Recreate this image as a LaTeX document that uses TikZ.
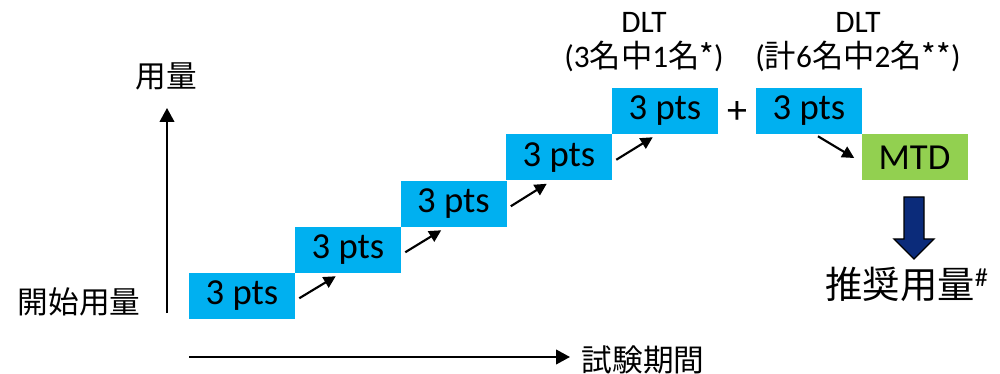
\documentclass[tikz,border=0pt]{standalone}
\usepackage{fontspec}
\setmainfont{Carlito}
\newfontfamily\jpfont{Noto Sans CJK JP}
\newcommand\ja[1]{{\jpfont #1}}
\usetikzlibrary{arrows.meta}
\definecolor{ptscyan}{HTML}{00B0F0}
\definecolor{mtdgreen}{HTML}{92D050}
\definecolor{recnavy}{HTML}{0B2B7A}
\tikzset{
  doseaxis/.style={line width=1.5pt,-{Triangle[length=10.5pt,width=11pt]}},
  escal/.style={line width=1.6pt,-{Triangle[length=9pt,width=9pt]}},
}
\begin{document}
\begin{tikzpicture}[x=0.75pt,y=-0.75pt]
      \useasboundingbox (0,0) rectangle (1000,374);

      \begin{scope}[every node/.style={fill=ptscyan, inner sep=0pt, minimum width=79.5pt, minimum height=34.5pt, font=\fontsize{27.5}{32}\selectfont}]
        \node (1) at (242,296)   {3 pts};
        \node (2) at (348,250)   {3 pts};
        \node (3) at (453.5,204) {3 pts};
        \node (4) at (559,157.5) {3 pts};
        \node (5) at (665,111)   {3 pts};
        \node (6) at (809,111)   {3 pts};
        \node[fill=mtdgreen] (7) at (914.5,157.5) {MTD};
      \end{scope}

      \begin{scope}[every node/.style={inner sep=0pt, font=\fontsize{23}{28}\jpfont}]
        \node (dose)  at (166,76)  {用量};
        \node (start) at (79,302)  {開始用量};
        \node (time)  at (643,360) {試験期間};
        \node[font=\fontsize{28}{33}\jpfont] (rec) at (907,284) {推奨用量\textsuperscript{\rmfamily\#}};
      \end{scope}

      \begin{scope}[every node/.style={inner sep=0pt, align=center, font=\fontsize{23.5}{26.25}\selectfont}]
        \node (dlt1) at (644,42) {DLT\\(3\ja{名中}1\ja{名*})};
        \node (dlt2) at (858,42) {DLT\\(\ja{計}6\ja{名中}2\ja{名**})};
        \node[font=\fontsize{30}{32}\selectfont] (plus) at (737,113)  {+};
      \end{scope}

      % axes
      \coordinate (o)    at (167,313);
      \coordinate (ytop) at (167,108);
      \coordinate (x0)   at (189,357);
      \coordinate (xend) at (570,357);
      \draw[doseaxis] (o) -- (ytop);
      \draw[doseaxis] (x0) -- (xend);

      % escalation steps
      \draw[escal] ([shift={(4,-21)}]1.south east) -- ([shift={(41,3)}]2.south west);
      \draw[escal] ([shift={(4,-21)}]2.south east) -- ([shift={(41,3)}]3.south west);
      \draw[escal] ([shift={(4,-21)}]3.south east) -- ([shift={(41,3)}]4.south west);
      \draw[escal] ([shift={(4,-21)}]4.south east) -- ([shift={(41,3)}]5.south west);
      \draw[escal] ([shift={(9,2)}]6.south) -- ([shift={(-7,0.5)}]7.west);

      % recommended dose arrow
      \draw[fill=recnavy, line width=1pt] (904,197) -- (924,197) -- (924,239) -- (934,239)
        -- (914,259) -- (894,239) -- (904,239) -- cycle;

    \end{tikzpicture}
\end{document}
